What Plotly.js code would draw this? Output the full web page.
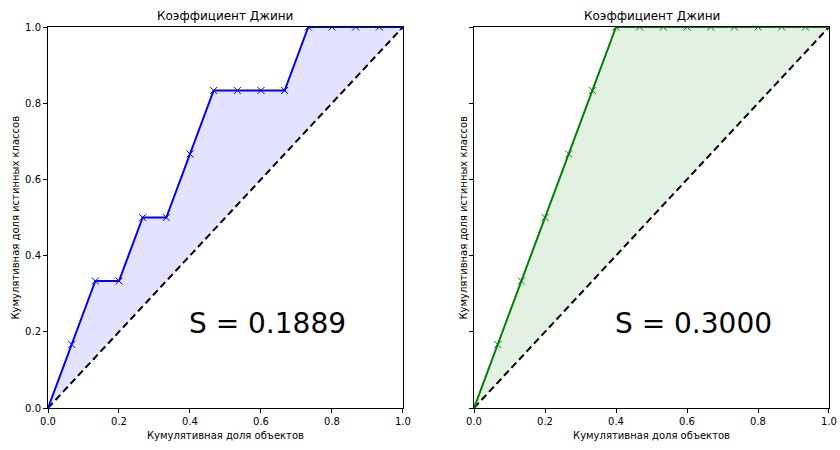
<!DOCTYPE html>
<html><head><meta charset="utf-8">
<script src="https://cdn.plot.ly/plotly-3.0.1.min.js"></script>
<style>body{margin:0;padding:0;background:#fff}#chart{width:840px;height:450px}</style>
</head><body><div id="chart"></div>
<script>
var xShare = [0, 0.0667, 0.1333, 0.2, 0.2667, 0.3333, 0.4, 0.4667, 0.5333, 0.6, 0.6667, 0.7333, 0.8, 0.8667, 0.9333, 1.0];
var yLeft  = [0, 0.1667, 0.3333, 0.3333, 0.5, 0.5, 0.6667, 0.8333, 0.8333, 0.8333, 0.8333, 1, 1, 1, 1, 1];
var yRight = [0, 0.1667, 0.3333, 0.5, 0.6667, 0.8333, 1, 1, 1, 1, 1, 1, 1, 1, 1, 1];
var diagX = xShare;
var diagY = [0, 0.0667, 0.1333, 0.2, 0.2667, 0.3333, 0.4, 0.4667, 0.5333, 0.6, 0.6667, 0.7333, 0.8, 0.8667, 0.9333, 1.0];
var scoreLeft = "S = 0.1889";
var scoreRight = "S = 0.3000";
var titleText = "Коэффициент Джини";
var xTitle = "Кумулятивная доля объектов";
var yTitle = "Кумулятивная доля истинных классов";

function panel(xa, ya, y, col, fillc) {
  return [
    {x: diagX, y: diagY, xaxis: xa, yaxis: ya, mode: 'lines', line: {width: 0, color: 'rgba(0,0,0,0)'}, showlegend: false, hoverinfo: 'skip'},
    {x: xShare, y: y, xaxis: xa, yaxis: ya, mode: 'lines', fill: 'tonexty', fillcolor: fillc, line: {width: 0, color: 'rgba(0,0,0,0)'}, showlegend: false},
    {x: diagX, y: diagY, xaxis: xa, yaxis: ya, mode: 'lines', line: {color: 'black', width: 2, dash: '7px,4px'}, showlegend: false},
    {x: xShare, y: y, xaxis: xa, yaxis: ya, mode: 'lines+markers', line: {color: col, width: 2},
     marker: {symbol: 'x-thin-open', size: 7, color: col, line: {color: col, width: 1}}, showlegend: false, cliponaxis: true}
  ];
}
var data = panel('x', 'y', yLeft, 'blue', 'rgba(0,0,255,0.11)').concat(panel('x2', 'y2', yRight, 'green', 'rgba(0,128,0,0.11)'));

var font = {family: 'DejaVu Sans', color: '#000'};
function xax(dom, anchor) {
  return {domain: dom, anchor: anchor, range: [0, 1], showgrid: false, zeroline: false, showline: true, mirror: true,
    linecolor: '#000', linewidth: 1, ticks: 'outside', ticklen: 4, tickcolor: '#000', tickvals: [0, 0.2, 0.4, 0.6, 0.8, 1.0],
    tickformat: '.1f', tickfont: {family: 'DejaVu Sans', size: 10, color: '#000'},
    title: {text: xTitle, font: {family: 'DejaVu Sans', size: 10, color: '#000'}, standoff: 5}};
}
function yax(anchor, labels) {
  return {domain: [0, 1], anchor: anchor, range: [0, 1], showgrid: false, zeroline: false, showline: true, mirror: true,
    linecolor: '#000', linewidth: 1, ticks: 'outside', ticklen: 4, tickcolor: '#000', tickvals: [0, 0.2, 0.4, 0.6, 0.8, 1.0],
    tickformat: '.1f', showticklabels: labels, tickfont: {family: 'DejaVu Sans', size: 10, color: '#000'}};
}
var tfont = {family: 'DejaVu Sans', size: 10, color: '#000'};
var layout = {
  width: 840, height: 450, paper_bgcolor: '#fff', plot_bgcolor: '#fff', font: font,
  margin: {l: 48, r: 11, t: 27, b: 42},
  xaxis: xax([0, 0.4545], 'y'),
  yaxis: yax('x', true),
  xaxis2: xax([0.5455, 1], 'y2'),
  yaxis2: yax('x2', false),
  annotations: [
    {text: titleText, xref: 'x domain', yref: 'paper', x: 0.5, y: 1, yanchor: 'bottom', yshift: 2, showarrow: false, font: {family: 'DejaVu Sans', size: 12, color: '#000'}},
    {text: titleText, xref: 'x2 domain', yref: 'paper', x: 0.5, y: 1, yanchor: 'bottom', yshift: 2, showarrow: false, font: {family: 'DejaVu Sans', size: 12, color: '#000'}},
    {text: yTitle, xref: 'x domain', yref: 'y domain', x: 0, y: 0.5, xanchor: 'center', yanchor: 'middle', xshift: -33, textangle: -90, showarrow: false, font: tfont},
    {text: yTitle, xref: 'x2 domain', yref: 'y2 domain', x: 0, y: 0.5, xanchor: 'center', yanchor: 'middle', xshift: -11, textangle: -90, showarrow: false, font: tfont},
    {text: scoreLeft, xref: 'x', yref: 'y', x: 0.4, y: 0.222, xanchor: 'left', yanchor: 'middle', xshift: -3, showarrow: false, font: {family: 'DejaVu Sans', size: 28, color: '#000'}},
    {text: scoreRight, xref: 'x2', yref: 'y2', x: 0.4, y: 0.222, xanchor: 'left', yanchor: 'middle', xshift: -3, showarrow: false, font: {family: 'DejaVu Sans', size: 28, color: '#000'}}
  ]
};
Plotly.newPlot('chart', data, layout, {displayModeBar: false, staticPlot: true});
</script></body></html>
